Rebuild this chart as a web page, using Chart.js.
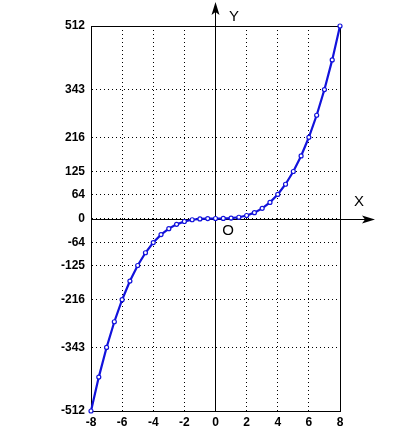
<!DOCTYPE html>
<html>
<head>
<meta charset="utf-8">
<script src="https://cdn.jsdelivr.net/npm/chart.js@4"></script>
<style>
  html, body { margin: 0; padding: 0; background: #fff; }
  #wrap { width: 402px; height: 442px; }
</style>
</head>
<body>
<div id="wrap"><canvas id="c" width="402" height="442"></canvas></div>
<script>
const xValues = [-8, -7.5, -7, -6.5, -6, -5.5, -5, -4.5, -4, -3.5, -3, -2.5, -2, -1.5, -1, -0.5,
  0, 0.5, 1, 1.5, 2, 2.5, 3, 3.5, 4, 4.5, 5, 5.5, 6, 6.5, 7, 7.5, 8];
const yValues = [-512, -421.875, -343, -274.625, -216, -166.375, -125, -91.125, -64, -42.875,
  -27, -15.625, -8, -3.375, -1, -0.125, 0, 0.125, 1, 3.375, 8, 15.625, 27, 42.875, 64,
  91.125, 125, 166.375, 216, 274.625, 343, 421.875, 512];
const yTicks = [-512, -343, -216, -125, -64, 0, 64, 125, 216, 343, 512];

const FONT = "'Liberation Sans', Arial, sans-serif";

function arrow(ctx, x, y, dir) {
  ctx.beginPath();
  if (dir === "up") {
    ctx.moveTo(x, y);
    ctx.lineTo(x - 4, y + 13);
    ctx.lineTo(x, y + 10);
    ctx.lineTo(x + 4, y + 13);
  } else {
    ctx.moveTo(x, y);
    ctx.lineTo(x - 13, y - 4);
    ctx.lineTo(x - 10, y);
    ctx.lineTo(x - 13, y + 4);
  }
  ctx.closePath();
  ctx.fill();
}

const axesPlugin = {
  id: "axes",
  beforeDatasetsDraw(chart) {
    const { ctx, chartArea: a, scales } = chart;
    const x0 = Math.round(scales.x.getPixelForValue(0)) - 0.5;
    const y0 = Math.round(scales.y.getPixelForValue(0)) + 0.5;
    ctx.save();
    ctx.strokeStyle = "#000";
    ctx.fillStyle = "#000";
    ctx.lineWidth = 1;
    // box
    ctx.strokeRect(Math.round(a.left) + 0.5, Math.round(a.top) + 0.5,
      Math.round(a.right - a.left), Math.round(a.bottom - a.top));
    // axes through origin
    ctx.beginPath();
    ctx.moveTo(x0, a.bottom);
    ctx.lineTo(x0, 8);
    ctx.moveTo(a.left, y0);
    ctx.lineTo(368, y0);
    ctx.stroke();
    arrow(ctx, x0, 2, "up");
    arrow(ctx, 375, y0, "right");
    // labels
    ctx.font = "15px " + FONT;
    ctx.textAlign = "center";
    ctx.textBaseline = "middle";
    ctx.fillText("Y", 234, 17);
    ctx.fillText("X", 359, 202);
    ctx.fillText("O", 228, 231);
    ctx.restore();
  }
};

new Chart(document.getElementById("c"), {
  type: "scatter",
  data: {
    datasets: [{
      data: xValues.map((x, i) => ({ x, y: yValues[i] })),
      showLine: true,
      borderColor: "#1212dc",
      borderWidth: 2.2,
      pointRadius: 2,
      pointBorderWidth: 1.2,
      pointBackgroundColor: "#ffffff",
      pointBorderColor: "#1212dc",
      clip: false
    }]
  },
  options: {
    animation: false,
    responsive: false,
    layout: { padding: { left: 0, right: 62, top: 26, bottom: 0 } },
    plugins: { legend: { display: false }, tooltip: { enabled: false } },
    scales: {
      x: {
        type: "linear",
        min: -8,
        max: 8,
        afterFit(scale) { scale.height = 31; },
        ticks: {
          stepSize: 2,
          color: "#000",
          padding: 4,
          font: { family: FONT, size: 12, weight: "bold" }
        },
        grid: { color: "#000", lineWidth: 1, drawTicks: false },
        border: { color: "#000", dash: [1, 3] }
      },
      y: {
        type: "linear",
        min: -512,
        max: 512,
        afterFit(scale) { scale.width = 91; },
        afterBuildTicks(scale) { scale.ticks = yTicks.map(v => ({ value: v })); },
        ticks: {
          color: "#000",
          padding: 6,
          font: { family: FONT, size: 12, weight: "bold" }
        },
        grid: { color: "#000", lineWidth: 1, drawTicks: false },
        border: { color: "#000", dash: [1, 3] }
      }
    }
  },
  plugins: [axesPlugin]
});
</script>
</body>
</html>
